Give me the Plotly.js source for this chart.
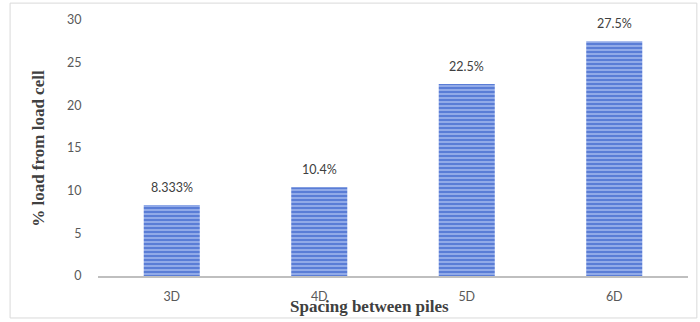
<!DOCTYPE html>
<html>
<head>
<meta charset="utf-8">
<script src="https://cdn.plot.ly/plotly-3.0.1.min.js"></script>
<style>
  html, body { margin: 0; padding: 0; background: #ffffff; }
  #chart { width: 700px; height: 322px; }
</style>
</head>
<body>
<div id="chart"></div>
<script>
// Share of load measured by the load cell for each pile spacing
const spacings = ["3D", "4D", "5D", "6D"];
const loadShare = [8.333, 10.4, 22.5, 27.5];
const shareLabels = ["8.333%", "10.4%", "22.5%", "27.5%"];
const yTicks = [0, 5, 10, 15, 20, 25, 30];

const tickFont = { family: "Lato, 'Open Sans', sans-serif", size: 12.5, color: "#595959" };
const titleFont = { family: "'Liberation Serif', 'DejaVu Serif', serif", size: 17, color: "#404040" };

const bars = {
  type: "bar",
  x: spacings,
  y: loadShare,
  marker: {
    color: "#5b80d8",
    line: { width: 0 },
    pattern: { shape: "-", fgcolor: "#a9bdf0", bgcolor: "#5a7dd6", size: 4, solidity: 0.35 }
  },
  hoverinfo: "x+y"
};

// value labels above each bar
const valueNotes = spacings.map((s, i) => ({
  x: s, y: loadShare[i], xref: "x", yref: "y",
  text: shareLabels[i], showarrow: false,
  yanchor: "bottom", yshift: 8,
  font: { family: "Lato, 'Open Sans', sans-serif", size: 12.5, color: "#404040" }
}));

const layout = {
  width: 700, height: 322,
  margin: { l: 98, r: 12, t: 20, b: 46 },
  paper_bgcolor: "#ffffff",
  plot_bgcolor: "#ffffff",
  bargap: 0.62,
  showlegend: false,
  xaxis: {
    type: "category",
    showline: true, linecolor: "#bfbfbf", linewidth: 1.5,
    showgrid: false, zeroline: false,
    ticks: "outside", ticklen: 8, tickcolor: "rgba(0,0,0,0)",
    tickfont: tickFont
  },
  yaxis: {
    range: [0, 30],
    tickvals: yTicks,
    showline: false, showgrid: false, zeroline: false,
    ticks: "outside", ticklen: 13, tickcolor: "rgba(0,0,0,0)",
    tickfont: tickFont
  },
  annotations: valueNotes.concat([
    {
      xref: "paper", yref: "paper", x: -0.102, y: 0.5,
      text: "<b>% load from load cell</b>", showarrow: false,
      textangle: -90, xanchor: "center", yanchor: "middle",
      font: titleFont
    },
    {
      xref: "paper", yref: "paper", x: 0.461, y: -0.12,
      text: "<b>Spacing between piles</b>", showarrow: false,
      xanchor: "center", yanchor: "middle",
      font: titleFont
    }
  ]),
  shapes: [{
    type: "rect", xref: "paper", yref: "paper",
    x0: -0.149, x1: 1.015, y0: -0.164, y1: 1.066,
    line: { color: "#d9d9d9", width: 1 }, fillcolor: "rgba(0,0,0,0)", layer: "below"
  }]
};

Plotly.newPlot("chart", [bars], layout, { displayModeBar: false, staticPlot: true });
</script>
</body>
</html>
